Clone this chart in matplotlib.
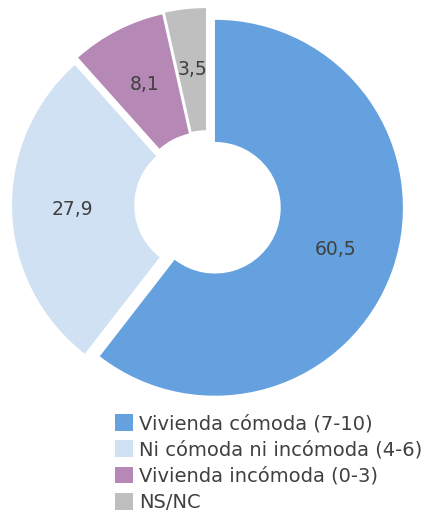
import matplotlib.pyplot as plt

# data
categories = ["Vivienda cómoda (7-10)", "Ni cómoda ni incómoda (4-6)",
              "Vivienda incómoda (0-3)", "NS/NC"]
values = [60.5, 27.9, 8.1, 3.5]
colors = ["#64A1DE", "#CFE1F3", "#B688B6", "#BFBFBF"]
explode = [0.045, 0.037, 0.043, 0.048]

plt.rcParams['font.family'] = ['DejaVu Sans']

fig = plt.figure(figsize=(4.38, 5.15), dpi=100)
ax = fig.add_axes([0.0005, 0.2004, 0.944, 0.803])

wedges, texts, autotexts = ax.pie(
    values, colors=colors, explode=explode, startangle=90,
    counterclock=False, radius=1,
    wedgeprops=dict(width=0.65, linewidth=0),
    autopct=lambda p: f"{p:.1f}".replace('.', ','), pctdistance=0.68,
    textprops=dict(color="#404040", fontsize=13.5))

ax.set_xlim(-1.1, 1.1)
ax.set_ylim(-1.1, 1.1)
ax.set_aspect('equal')
ax.axis('off')

# legend below the donut
fig.legend(wedges, categories, loc='upper left',
           bbox_to_anchor=(115 / 438, 1 - 414 / 515),
           frameon=False, borderpad=0, borderaxespad=0,
           handlelength=0.95, handleheight=0.95, handletextpad=0.28,
           labelspacing=0.37, fontsize=14, labelcolor="#404040")

plt.savefig("out.png", dpi=100)
